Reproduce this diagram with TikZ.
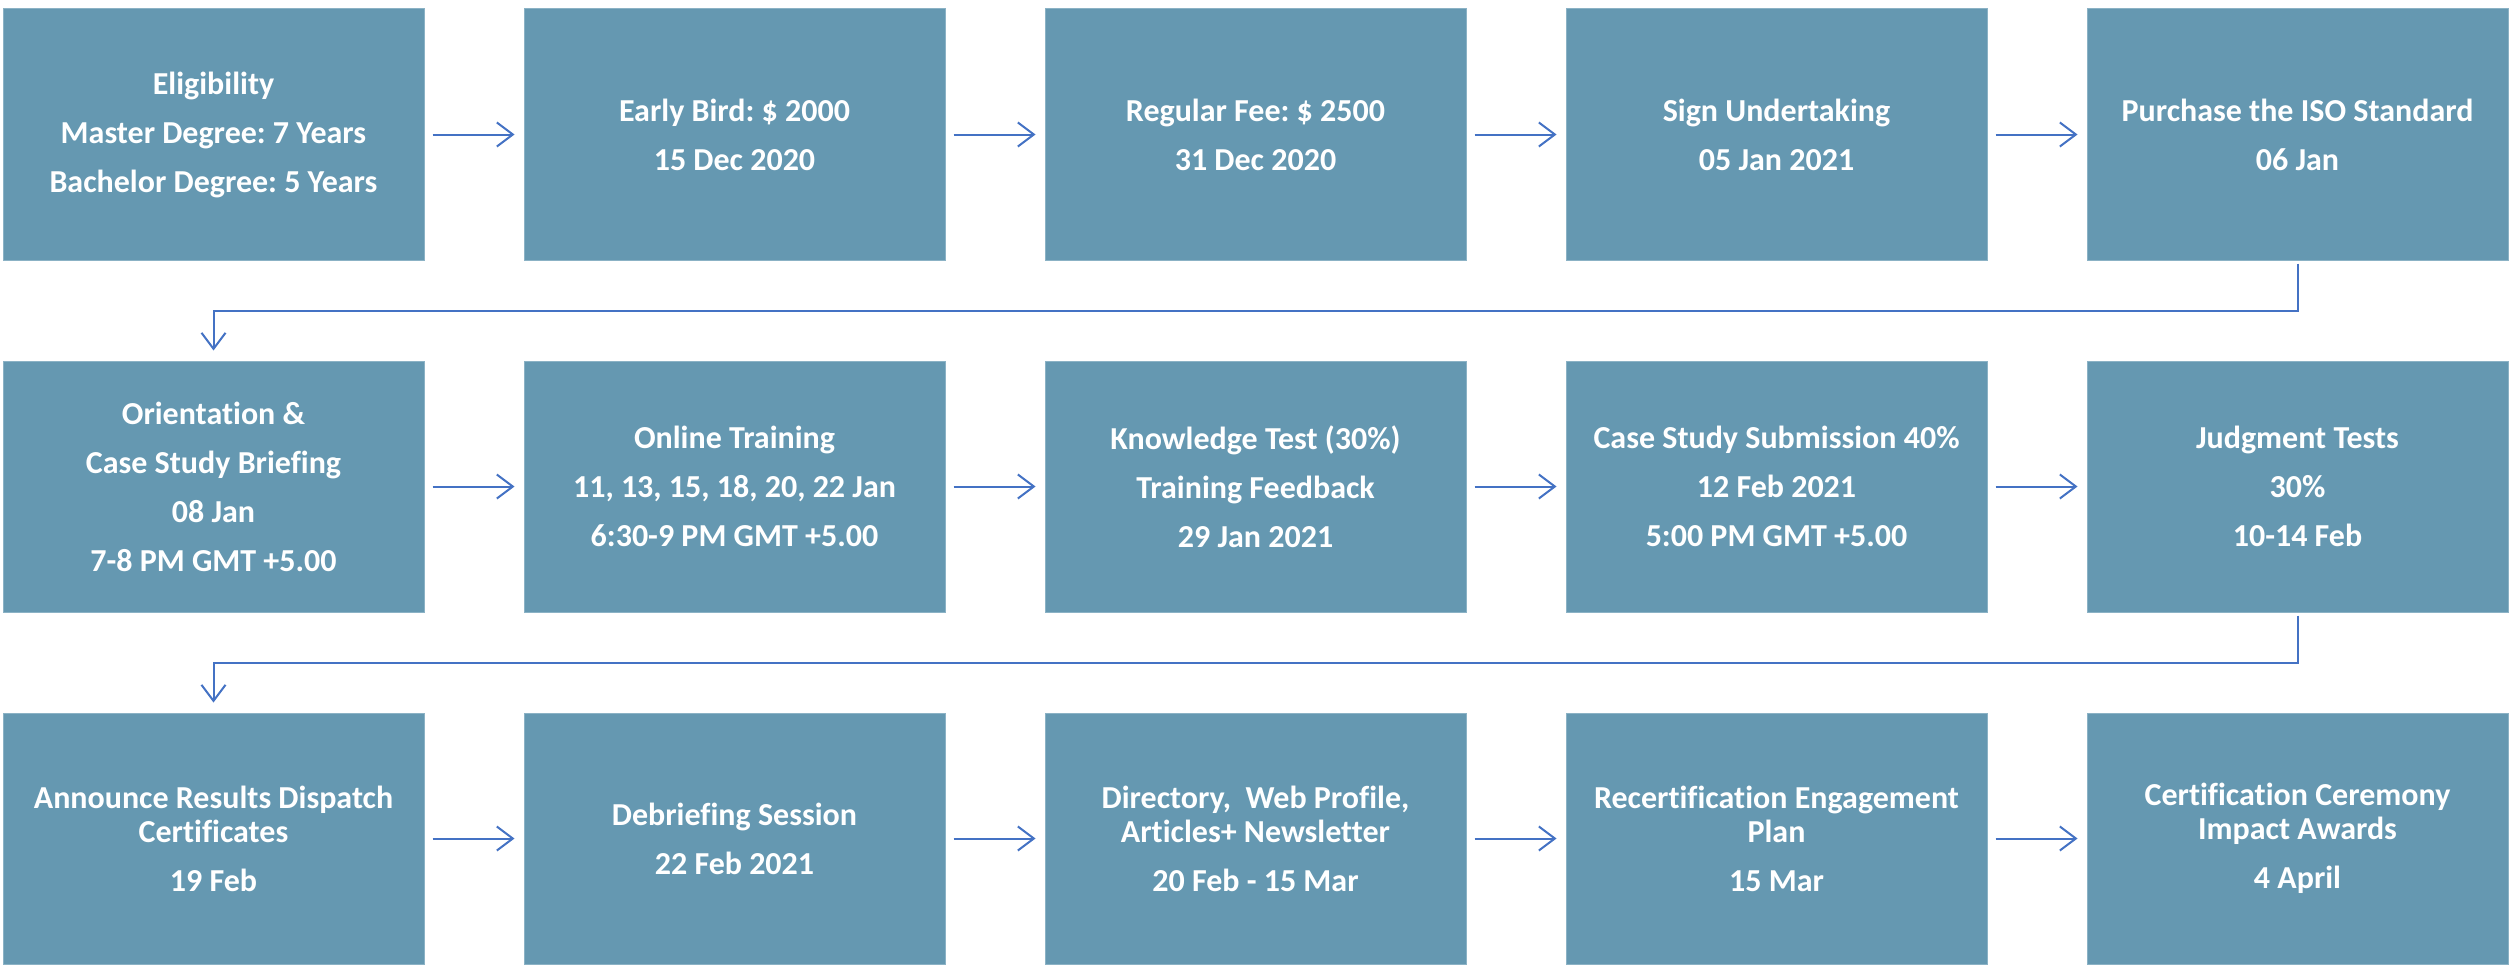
\documentclass[tikz,border=0pt]{standalone}
\usepackage{fontspec}
\setmainfont{Carlito}[Ligatures=NoCommon]
\usetikzlibrary{arrows.meta}
\definecolor{boxfill}{RGB}{101,152,177}
\definecolor{linkblue}{RGB}{68,114,196}
\frenchspacing
\begin{document}
\begin{tikzpicture}[x=1pt,y=-1pt,
  stepbox/.style={fill=boxfill, draw=boxfill!75!white, line width=1pt,
    minimum width=421pt, minimum height=251pt, inner sep=0pt, text=white,
    align=center, font=\fontsize{32}{34}\selectfont\bfseries\frenchspacing},
  conn/.style={draw=linkblue, line width=2pt,
    -{Straight Barb[length=16pt,width=24pt,line width=2pt]}}]
\fill[white] (0,0) rectangle (2509,966);
\useasboundingbox (0,0) rectangle (2509,966);
% row 1
\node[stepbox] (n1) at (213.5,134.5) {Eligibility\\[15pt]Master Degree: 7 Years\\[15pt]Bachelor Degree: 5 Years};
\node[stepbox] (n2) at (734.5,134.5) {Early Bird: \$ 2000\\[15pt]15 Dec 2020};
\node[stepbox] (n3) at (1255.5,134.5) {Regular Fee: \$ 2500\\[15pt]31 Dec 2020};
\node[stepbox] (n4) at (1776.5,134.5) {Sign Undertaking\\[15pt]05 Jan 2021};
\node[stepbox] (n5) at (2297.5,134.5) {Purchase the ISO Standard\\[15pt]06 Jan};
% row 2
\node[stepbox] (n6) at (213.5,486.5) {Orientation \&\\[15pt]Case Study Briefing\\[15pt]08 Jan\\[15pt]7-8 PM GMT +5.00};
\node[stepbox] (n7) at (734.5,486.5) {Online Training\\[15pt]11, 13, 15, 18, 20, 22 Jan\\[15pt]6:30-9 PM GMT +5.00};
\node[stepbox] (n8) at (1255.5,486.5) {Knowledge Test (30\%)\\[15pt]Training Feedback\\[15pt]29 Jan 2021};
\node[stepbox] (n9) at (1776.5,486.5) {Case Study Submission 40\%\\[15pt]12 Feb 2021\\[15pt]5:00 PM GMT +5.00};
\node[stepbox] (n10) at (2297.5,486.5) {Judgment Tests\\[15pt]30\%\\[15pt]10-14 Feb};
% row 3
\node[stepbox] (n11) at (213.5,838.5) {Announce Results Dispatch\\Certificates\\[15pt]19 Feb};
\node[stepbox] (n12) at (734.5,838.5) {Debriefing Session\\[15pt]22 Feb 2021};
\node[stepbox] (n13) at (1255.5,838.5) {Directory,\ \ Web Profile,\\Articles+ Newsletter\\[15pt]20 Feb - 15 Mar};
\node[stepbox] (n14) at (1776.5,838.5) {Recertification Engagement\\Plan\\[15pt]15 Mar};
\node[stepbox] (n15) at (2297.5,838.5) {Certification Ceremony\\Impact Awards\\[15pt]4 April};
% connectors
\foreach \a/\b in {n1/n2,n2/n3,n3/n4,n4/n5,n6/n7,n7/n8,n8/n9,n9/n10,n11/n12,n12/n13,n13/n14,n14/n15}
  \draw[conn] ([xshift=8pt]\a.east) -- ([xshift=-9pt]\b.west);
\draw[conn] ([yshift=-3pt]n5.south) -- ++(0,47) -| ([yshift=10pt]n6.north);
\draw[conn] ([yshift=-3pt]n10.south) -- ++(0,47) -| ([yshift=10pt]n11.north);
\end{tikzpicture}
\end{document}
